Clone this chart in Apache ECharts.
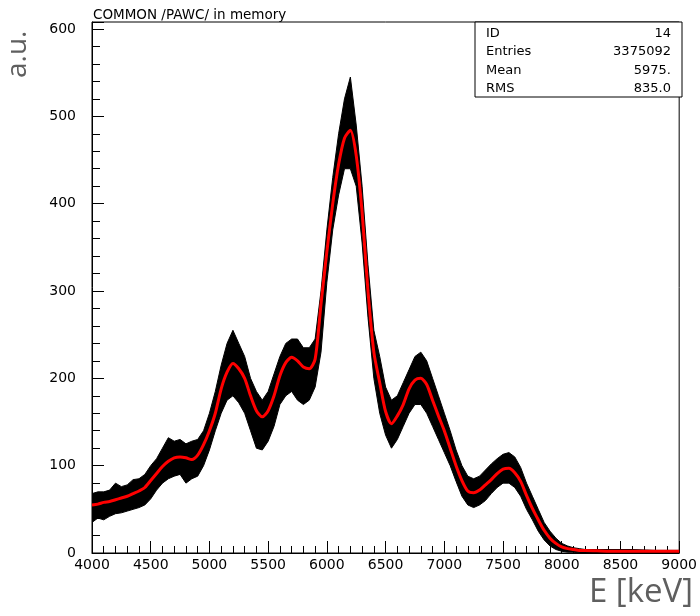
<!DOCTYPE html>
<html>
<head>
<meta charset="utf-8">
<script src="https://cdn.jsdelivr.net/npm/echarts@6/dist/echarts.min.js"></script>
<style>
  html, body { margin: 0; padding: 0; background: #fff; }
  #main { width: 700px; height: 616px; }
</style>
</head>
<body>
<div id="main"></div>
<script>
// energy grid (keV)
const energies = [
  4000, 4050, 4100, 4150, 4200, 4250, 4300, 4350, 4400, 4450,
  4500, 4550, 4600, 4650, 4700, 4750, 4800, 4850, 4900, 4950,
  5000, 5050, 5100, 5150, 5200, 5250, 5300, 5350, 5400, 5450,
  5500, 5550, 5600, 5650, 5700, 5750, 5800, 5850, 5900, 5950,
  6000, 6050, 6100, 6150, 6200, 6250, 6300, 6350, 6400, 6450,
  6500, 6550, 6600, 6650, 6700, 6750, 6800, 6850, 6900, 6950,
  7000, 7050, 7100, 7150, 7200, 7250, 7300, 7350, 7400, 7450,
  7500, 7550, 7600, 7650, 7700, 7750, 7800, 7850, 7900, 7950,
  8000, 8050, 8100, 8150, 8200,
  8400, 8600, 8800, 9000
];

// red smooth fit
const fitValues = [
  55, 56, 58, 59, 61, 63, 65, 68, 71, 75,
  83, 91, 99, 105, 109, 110, 109, 107, 112, 124,
  140, 160, 188, 207, 217, 211, 200, 180, 163, 156,
  163, 180, 203, 218, 224, 220, 213, 211, 222, 285,
  345, 400, 445, 475, 484, 455, 390, 300, 230, 195,
  162, 148, 157, 170, 188, 198, 200, 193, 175, 157,
  140, 120, 100, 83, 71, 69, 72, 78, 84, 91,
  96, 97, 92, 82, 66, 51, 38, 26, 17, 11,
  7, 5, 4, 3, 3,
  2, 2, 2, 2
];

// black histogram band: top and bottom of the noisy bins
const histUpper = [
  68, 70, 70, 72, 80, 76, 78, 84, 85, 90,
  100, 108, 120, 132, 128, 130, 125, 128, 130, 140,
  160, 185, 215, 240, 255, 240, 225, 200, 185, 175,
  185, 205, 225, 240, 245, 245, 235, 235, 245, 300,
  370, 430, 480, 520, 545, 490, 420, 330, 255, 225,
  190, 175, 180, 195, 210, 225, 230, 220, 200, 180,
  160, 140, 118, 100, 88, 85, 88, 95, 102, 108,
  113, 115, 110, 98, 80, 65, 50, 35, 25, 17,
  11, 8, 6, 5, 4,
  4, 4, 3, 3
];
const histLower = [
  35, 40, 38, 42, 45, 46, 48, 50, 52, 55,
  62, 72, 80, 85, 88, 90, 80, 85, 88, 100,
  118, 140, 160, 175, 180, 172, 160, 140, 120, 118,
  128, 145, 170, 180, 185, 175, 170, 175, 190, 230,
  310, 370, 410, 440, 440, 420, 355, 270, 200, 160,
  135, 120, 130, 145, 160, 170, 170, 160, 145, 130,
  115, 100, 82, 65, 55, 52, 55, 60, 68, 75,
  80, 80, 75, 65, 50, 38, 25, 15, 8, 4,
  2, 1, 1, 0, 0,
  0, 0, 0, 0
];

const statLabels = ["ID", "Entries", "Mean", "RMS"];
const statValues = ["14", "3375092", "5975.", "835.0"];

const chart = echarts.init(document.getElementById("main"));

const tickFont = { fontFamily: "DejaVu Sans", fontSize: 14, color: "#000" };

const statTexts = [];
statLabels.forEach((s, i) => {
  statTexts.push({
    type: "text", left: 486, top: 27 + i * 18.5, z: 11,
    style: { text: s, font: "13px 'DejaVu Sans'", fill: "#000" }
  });
  statTexts.push({
    type: "text", right: 29, top: 27 + i * 18.5, z: 11,
    style: { text: statValues[i], font: "13px 'DejaVu Sans'", fill: "#000", textAlign: "right" }
  });
});

// band between lower and upper edges, drawn as one polygon
function renderBand(params, api) {
  if (params.dataIndex !== 0) return;
  const pts = [];
  for (let i = 0; i < energies.length; i++) pts.push(api.coord([energies[i], histUpper[i]]));
  for (let i = energies.length - 1; i >= 0; i--) pts.push(api.coord([energies[i], histLower[i]]));
  return {
    type: "polygon",
    shape: { points: pts },
    style: { fill: "#000", stroke: "#000", lineWidth: 1 }
  };
}

const option = {
  animation: false,
  backgroundColor: "#fff",
  grid: { left: 92, right: 18, top: 22, bottom: 63, show: true, borderColor: "#000", borderWidth: 1 },
  xAxis: {
    type: "value", min: 4000, max: 9000, interval: 500,
    axisLine: { show: true, onZero: false, lineStyle: { color: "#000", width: 1 } },
    axisTick: { show: true, inside: true, length: 12, lineStyle: { color: "#000" } },
    minorTick: { show: true, splitNumber: 5, length: 7, lineStyle: { color: "#000" } },
    splitLine: { show: false },
    axisLabel: Object.assign({ margin: 5, formatter: v => String(v) }, tickFont)
  },
  yAxis: {
    type: "value", min: 0, max: 608, interval: 100,
    axisLine: { show: true, lineStyle: { color: "#000", width: 1 } },
    axisTick: { show: true, inside: true, length: 12, lineStyle: { color: "#000" } },
    minorTick: { show: true, splitNumber: 5, length: 8, lineStyle: { color: "#000" } },
    splitLine: { show: false },
    axisLabel: Object.assign({ margin: 16, showMaxLabel: false, formatter: v => String(v) }, tickFont)
  },
  series: [
    {
      type: "custom", silent: true, clip: true,
      data: energies.map((e, i) => [e, histLower[i], histUpper[i]]),
      encode: { x: 0, y: [1, 2] },
      renderItem: renderBand
    },
    {
      type: "line", symbol: "none", smooth: 0.25, silent: true, z: 5,
      data: energies.map((e, i) => [e, fitValues[i]]),
      lineStyle: { width: 3, color: "#ff0000" }
    }
  ],
  graphic: [
    {
      type: "text", left: 93, top: 8,
      style: { text: "COMMON /PAWC/ in memory", font: "13.5px 'DejaVu Sans'", fill: "#000" }
    },
    {
      type: "rect", shape: { x: 475, y: 22, width: 207, height: 75 },
      style: { fill: "#fff", stroke: "#000", lineWidth: 1 }, z: 10
    },
    ...statTexts,
    {
      type: "text", x: 4, y: 78, rotation: Math.PI / 2,
      style: { text: "a.u.", font: "28px 'Open Sans'", fill: "#5f5f5f" }
    },
    {
      type: "text", right: 7, top: 576,
      style: { text: "E [keV]", font: "33px 'Open Sans'", fill: "#5f5f5f" }
    }
  ]
};

chart.setOption(option);
</script>
</body>
</html>
